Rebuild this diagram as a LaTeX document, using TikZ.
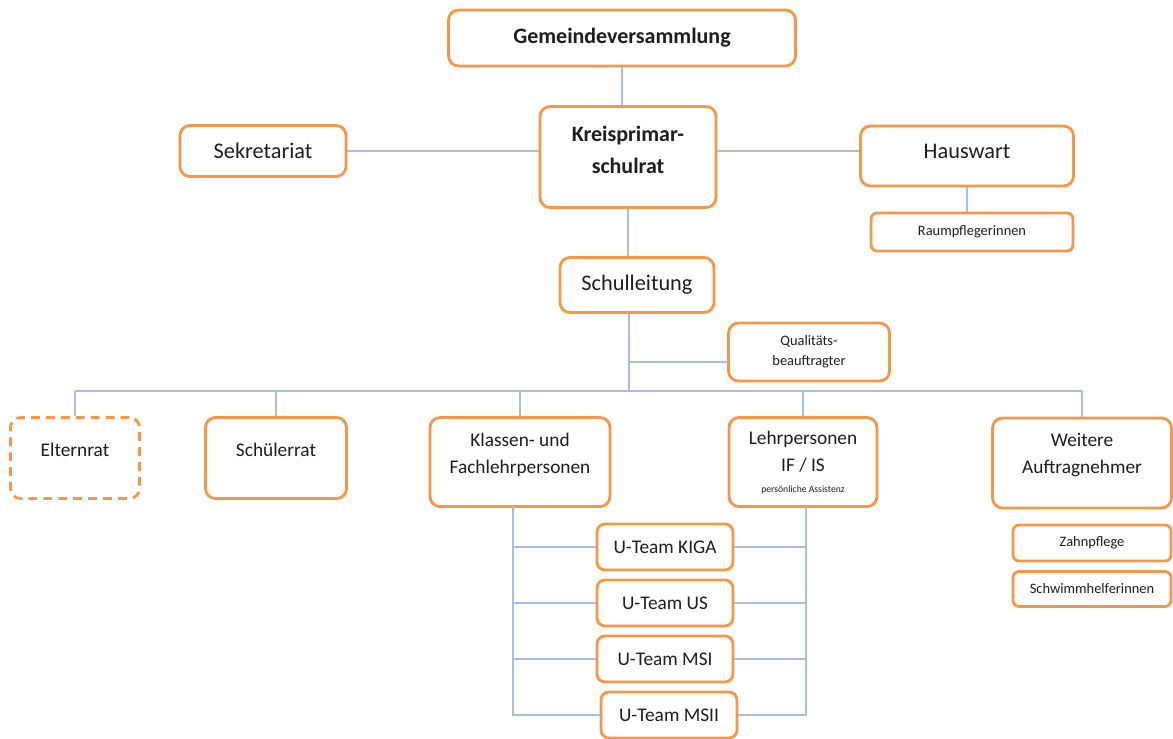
\documentclass[tikz,border=0pt]{standalone}
\usepackage{fontspec}
\setmainfont{Carlito}
\definecolor{boxorange}{RGB}{247,150,70}
\definecolor{linkblue}{RGB}{165,190,228}
\definecolor{txtgray}{RGB}{30,30,30}
\begin{document}
\begin{tikzpicture}[x=0.02cm,y=-0.02cm,
	box/.style={draw=boxorange,line width=1.6pt,rounded corners=0.2cm,fill=white,text=txtgray,inner sep=0pt,align=center},
	sbox/.style={box,rounded corners=0.12cm,font=\fontsize{8.2}{11.3}\selectfont},
	bold/.style={font=\fontsize{12.5}{18}\selectfont\bfseries},
	big/.style={font=\fontsize{12.7}{15}\selectfont},
	mid/.style={font=\fontsize{11}{15.3}\selectfont},
	txt/.style={text=txtgray,inner sep=0pt,align=center},
	link/.style={draw=linkblue,line width=0.8pt}]
	\useasboundingbox (0,0) rectangle (1173,738);
	\node[box,bold,minimum width=6.94cm,minimum height=1.12cm] (gv) at (622,38) {Gemeindeversammlung};
	\node[box,minimum width=3.52cm,minimum height=2.02cm] (ksr) at (628,157) {};
	\node[txt,bold] (ksrT) at (628,150) {Kreisprimar-\\schulrat};
	\node[box,big,minimum width=3.32cm,minimum height=1.02cm] (sek) at (263,151) {Sekretariat};
	\node[box,big,text depth=0.18cm,minimum width=4.26cm,minimum height=1.2cm] (hw) at (967,156) {Hauswart};
	\node[sbox,minimum width=4.04cm,minimum height=0.76cm] (rp) at (972,232) {Raumpflegerinnen};
	\node[box,big,minimum width=3.08cm,minimum height=1.1cm] (sl) at (637,285) {Schulleitung};
	\node[sbox,rounded corners=0.2cm,minimum width=3.22cm,minimum height=1.16cm] (qb) at (809,352) {Qualitäts-\\beauftragter};
	\node[box,dash pattern=on 5pt off 3.5pt,minimum width=2.58cm,minimum height=1.62cm] (elt) at (75,458) {};
	\node[txt,mid] (eltT) at (75,450) {Elternrat};
	\node[box,minimum width=2.82cm,minimum height=1.62cm] (sr) at (276,458) {};
	\node[txt,mid] (srT) at (276,450) {Schülerrat};
	\node[box,minimum width=3.6cm,minimum height=1.78cm] (kl) at (520,462) {};
	\node[txt,mid] (klT) at (520,455) {Klassen- und\\Fachlehrpersonen};
	\node[box,minimum width=2.96cm,minimum height=1.78cm] (lp) at (803,462) {};
	\node[txt,mid] (lpT) at (803,463) {Lehrpersonen\\IF / IS\\[-3.3pt]{\fontsize{5.5}{7}\selectfont persönliche Assistenz}};
	\node[box,minimum width=3.58cm,minimum height=1.8cm] (wa) at (1082,463) {};
	\node[txt,mid] (waT) at (1082,455) {Weitere\\Auftragnehmer};
	\node[sbox,minimum width=3.16cm,minimum height=0.72cm] (zp) at (1092,543) {Zahnpflege};
	\node[sbox,minimum width=3.16cm,minimum height=0.7cm] (sh) at (1092,589) {Schwimmhelferinnen};
	\foreach \n/\t/\x/\y in {1/KIGA/665/547,2/US/665/603,3/MSI/665/659,4/MSII/669/715}
		\node[box,mid,rounded corners=0.16cm,minimum width=2.72cm,minimum height=0.92cm] (ut\n) at (\x,\y) {U-Team \t};
	\draw[link] (gv.south) -- (gv.south |- ksr.north);
	\draw[link] (ksr.south) -- (ksr.south |- sl.north);
	\draw[link] (sek.east) -- (sek.east -| ksr.west);
	\draw[link] (ksr.east |- sek.east) -- (sek.east -| hw.west);
	\draw[link] (hw.south) -- (hw.south |- rp.north);
	\coordinate (bus) at (629,391);
	\coordinate (qbj) at (629,362);
	\draw[link] (sl.south -| bus) -- (bus);
	\draw[link] (qbj) -- (qbj -| qb.west);
	\draw[link] (elt.north |- bus) -- (wa.north |- bus);
	\foreach \n in {elt,sr,kl,lp,wa}
		\draw[link] (\n.north) -- (\n.north |- bus);
	\coordinate (lbar) at (513,507);
	\coordinate (rbar) at (806,507);
	\draw[link] (lbar) |- (ut4.west);
	\draw[link] (rbar) |- (ut4.east);
	\foreach \n in {1,2,3}{
		\draw[link] (ut\n.west) -- (ut\n.west -| lbar);
		\draw[link] (ut\n.east) -- (ut\n.east -| rbar);
	}
\end{tikzpicture}
\end{document}
